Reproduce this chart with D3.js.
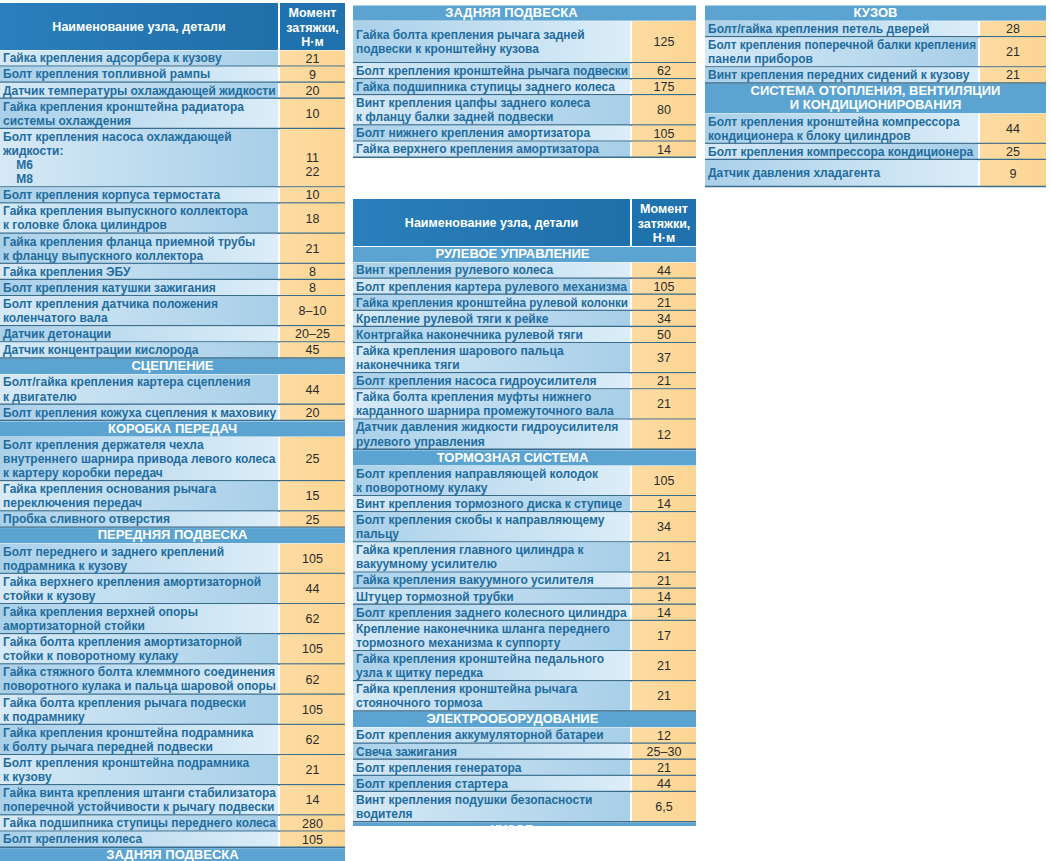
<!DOCTYPE html>
<html>
<head>
<meta charset="utf-8">
<script src="https://cdn.jsdelivr.net/npm/d3@7/dist/d3.min.js"></script>
<style>
body { margin: 0; background: #fff; }
svg { display: block; }
.name { font-family: "Liberation Sans", Arial, sans-serif; font-weight: bold; font-size: 12px; fill: #1f6c9e; }
.val { font-family: "Liberation Sans", Arial, sans-serif; font-size: 12.5px; fill: #2b2b2b; }
.sect { font-family: "Liberation Sans", Arial, sans-serif; font-weight: bold; font-size: 13px; fill: #fff; }
.head { font-family: "Liberation Sans", Arial, sans-serif; font-weight: bold; font-size: 12.5px; fill: #fff; }
</style>
</head>
<body>
<svg id="chart" width="1051" height="861"></svg>
<script>
// table contents: [name, value]; a row with no value is a section heading; "|" = line break
var engineRows = [
  ["Гайка крепления адсорбера к кузову", "21"],
  ["Болт крепления топливной рампы", "9"],
  ["Датчик температуры охлаждающей жидкости", "20"],
  ["Гайка крепления кронштейна радиатора|системы охлаждения", "10"],
  ["Болт крепления насоса охлаждающей|жидкости:|    М6|    М8", " |11|22"],
  ["Болт крепления корпуса термостата", "10"],
  ["Гайка крепления выпускного коллектора|к головке блока цилиндров", "18"],
  ["Гайка крепления фланца приемной трубы|к фланцу выпускного коллектора", "21"],
  ["Гайка крепления ЭБУ", "8"],
  ["Болт крепления катушки зажигания", "8"],
  ["Болт крепления датчика положения|коленчатого вала", "8–10"],
  ["Датчик детонации", "20–25"],
  ["Датчик концентрации кислорода", "45"],
  ["СЦЕПЛЕНИЕ"],
  ["Болт/гайка крепления картера сцепления|к двигателю", "44"],
  ["Болт крепления кожуха сцепления к маховику", "20"],
  ["КОРОБКА ПЕРЕДАЧ"],
  ["Болт крепления держателя чехла|внутреннего шарнира привода левого колеса|к картеру коробки передач", "25"],
  ["Гайка крепления основания рычага|переключения передач", "15"],
  ["Пробка сливного отверстия", "25"],
  ["ПЕРЕДНЯЯ ПОДВЕСКА"],
  ["Болт переднего и заднего креплений|подрамника к кузову", "105"],
  ["Гайка верхнего крепления амортизаторной|стойки к кузову", "44"],
  ["Гайка крепления верхней опоры|амортизаторной стойки", "62"],
  ["Гайка болта крепления амортизаторной|стойки к поворотному кулаку", "105"],
  ["Гайка стяжного болта клеммного соединения|поворотного кулака и пальца шаровой опоры", "62"],
  ["Гайка болта крепления рычага подвески|к подрамнику", "105"],
  ["Гайка крепления кронштейна подрамника|к болту рычага передней подвески", "62"],
  ["Болт крепления кронштейна подрамника|к кузову", "21"],
  ["Гайка винта крепления штанги стабилизатора|поперечной устойчивости к рычагу подвески", "14"],
  ["Гайка подшипника ступицы переднего колеса", "280"],
  ["Болт крепления колеса", "105"],
  ["ЗАДНЯЯ ПОДВЕСКА"]
];

var rearRows = [
  ["ЗАДНЯЯ ПОДВЕСКА"],
  ["Гайка болта крепления рычага задней|подвески к кронштейну кузова", "125"],
  ["Болт крепления кронштейна рычага подвески", "62"],
  ["Гайка подшипника ступицы заднего колеса", "175"],
  ["Винт крепления цапфы заднего колеса|к фланцу балки задней подвески", "80"],
  ["Болт нижнего крепления амортизатора", "105"],
  ["Гайка верхнего крепления амортизатора", "14"]
];

var steeringRows = [
  ["РУЛЕВОЕ УПРАВЛЕНИЕ"],
  ["Винт крепления рулевого колеса", "44"],
  ["Болт крепления картера рулевого механизма", "105"],
  ["Гайка крепления кронштейна рулевой колонки", "21"],
  ["Крепление рулевой тяги к рейке", "34"],
  ["Контргайка наконечника рулевой тяги", "50"],
  ["Гайка крепления шарового пальца|наконечника тяги", "37"],
  ["Болт крепления насоса гидроусилителя", "21"],
  ["Гайка болта крепления муфты нижнего|карданного шарнира промежуточного вала", "21"],
  ["Датчик давления жидкости гидроусилителя|рулевого управления", "12"],
  ["ТОРМОЗНАЯ СИСТЕМА"],
  ["Болт крепления направляющей колодок|к поворотному кулаку", "105"],
  ["Винт крепления тормозного диска к ступице", "14"],
  ["Болт крепления скобы к направляющему|пальцу", "34"],
  ["Гайка крепления главного цилиндра к|вакуумному усилителю", "21"],
  ["Гайка крепления вакуумного усилителя", "21"],
  ["Штуцер тормозной трубки", "14"],
  ["Болт крепления заднего колесного цилиндра", "14"],
  ["Крепление наконечника шланга переднего|тормозного механизма к суппорту", "17"],
  ["Гайка крепления кронштейна педального|узла к щитку передка", "21"],
  ["Гайка крепления кронштейна рычага|стояночного тормоза", "21"],
  ["ЭЛЕКТРООБОРУДОВАНИЕ"],
  ["Болт крепления аккумуляторной батареи", "12"],
  ["Свеча зажигания", "25–30"],
  ["Болт крепления генератора", "21"],
  ["Болт крепления стартера", "44"],
  ["Винт крепления подушки безопасности|водителя", "6,5"],
  ["КУЗОВ"]
];

var bodyRows = [
  ["КУЗОВ"],
  ["Болт/гайка крепления петель дверей", "28"],
  ["Болт крепления поперечной балки крепления|панели приборов", "21"],
  ["Винт крепления передних сидений к кузову", "21"],
  ["СИСТЕМА ОТОПЛЕНИЯ, ВЕНТИЛЯЦИИ|И КОНДИЦИОНИРОВАНИЯ"],
  ["Болт крепления кронштейна компрессора|кондиционера к блоку цилиндров", "44"],
  ["Болт крепления компрессора кондиционера", "25"],
  ["Датчик давления хладагента", "9"]
];

var headerName = "Наименование узла, детали";
var headerValue = ["Момент", "затяжки,", "Н·м"];

// layout of the four blocks
var blocks = [
  { rows: engineRows,   x: 0,   y: 3,   nameW: 278, valW: 65, header: true,  clipH: null, secShift: 0,   tall: {} },
  { rows: rearRows,     x: 353, y: 5,   nameW: 277, valW: 64, header: false, clipH: null, secShift: -13, tall: {1: 42} },
  { rows: steeringRows, x: 353, y: 199, nameW: 277, valW: 64, header: true,  clipH: 627, secShift: -12, tall: {} },
  { rows: bodyRows,     x: 705, y: 5,   nameW: 273, valW: 66, header: false, clipH: null, secShift: 0,   tall: {7: 27} }
];

var LINE = 14.1, PAD = 2, HEAD_H = 47, GAP = 2;

var svg = d3.select("#chart");
var defs = svg.append("defs");

function grad(id, c0, c1) {
  var lg = defs.append("linearGradient").attr("id", id).attr("x1", "0").attr("x2", "1").attr("y1", "0").attr("y2", "0");
  lg.append("stop").attr("offset", "0").attr("stop-color", c0);
  lg.append("stop").attr("offset", "1").attr("stop-color", c1);
}
grad("gA", "#d6e9f6", "#a7cfe8");
grad("gB", "#a9d0e9", "#dcedf8");
grad("gV", "#fddca4", "#fbd592");
grad("gH", "#2a7fbc", "#1f6fa8");

function drawBlock(b, bi) {
  var W = b.nameW + GAP + b.valW;
  var g = svg.append("g").attr("transform", "translate(" + b.x + "," + b.y + ")");
  if (b.clipH) {
    defs.append("clipPath").attr("id", "clip" + bi).append("rect").attr("width", W).attr("height", b.clipH);
    g.attr("clip-path", "url(#clip" + bi + ")");
  }
  var y0 = 0;
  if (b.header) {
    g.append("rect").attr("width", b.nameW).attr("height", HEAD_H).attr("fill", "url(#gH)");
    g.append("rect").attr("x", b.nameW + GAP).attr("width", b.valW).attr("height", HEAD_H).attr("fill", "#1f72ad");
    g.append("text").attr("class", "head").attr("x", b.nameW / 2).attr("y", HEAD_H / 2).attr("dy", "0.35em")
      .attr("text-anchor", "middle").text(headerName);
    g.append("g").selectAll("text").data(headerValue).join("text").attr("class", "head")
      .attr("x", b.nameW + GAP + b.valW / 2).attr("y", function (d, i) { return HEAD_H / 2 + 1 + (i - 1) * 14.5; })
      .attr("dy", "0.35em").attr("text-anchor", "middle").text(function (d) { return d; });
    y0 = HEAD_H + 0.5;
  }

  var rows = b.rows.map(function (r, i) {
    var lines = r[0].split("|");
    var h = b.tall[i] || (lines.length * LINE + PAD);
    var o = { lines: lines, vals: r[1] !== undefined ? r[1].split("|") : null, y: y0, h: h, i: i };
    y0 += h;
    return o;
  });

  var row = g.selectAll("g.row").data(rows).join("g").attr("class", "row")
    .attr("transform", function (d) { return "translate(0," + d.y + ")"; });

  // section headings
  var sec = row.filter(function (d) { return !d.vals; });
  sec.append("rect").attr("width", W).attr("height", function (d) { return d.h - 1; }).attr("y", 0.5).attr("fill", "#5ba3d0");
  sec.each(function (d) {
    d3.select(this).selectAll("text").data(d.lines).join("text").attr("class", "sect")
      .attr("x", W / 2 + b.secShift).attr("text-anchor", "middle")
      .attr("y", function (t, k) { return d.h / 2 - 1 + (k - (d.lines.length - 1) / 2) * LINE; })
      .attr("dy", "0.36em").text(function (t) { return t; });
  });

  // data rows
  var dat = row.filter(function (d) { return !!d.vals; });
  dat.append("rect").attr("width", b.nameW).attr("height", function (d) { return d.h; })
    .attr("fill", function (d) { return d.i % 2 ? "url(#gB)" : "url(#gA)"; });
  dat.append("rect").attr("x", b.nameW + GAP).attr("width", b.valW).attr("height", function (d) { return d.h; })
    .attr("fill", "url(#gV)");
  var maxW = b.nameW - 5;
  dat.each(function (d) {
    var sel = d3.select(this);
    sel.append("g").selectAll("text").data(d.lines).join("text").attr("class", "name")
      .attr("x", 3).attr("y", function (t, k) { return d.h / 2 - 0.5 + (k - (d.lines.length - 1) / 2) * LINE; })
      .attr("dy", "0.36em").attr("xml:space", "preserve").text(function (t) { return t; })
      .each(function () {
        // squeeze lines that would run into the value column
        if (this.getComputedTextLength() > maxW) {
          d3.select(this).attr("textLength", maxW).attr("lengthAdjust", "spacingAndGlyphs");
        }
      });
    sel.append("g").selectAll("text").data(d.vals).join("text").attr("class", "val")
      .attr("x", b.nameW + GAP + b.valW / 2).attr("text-anchor", "middle")
      .attr("y", function (t, k) { return d.h / 2 - 0.5 + (k - (d.vals.length - 1) / 2) * LINE; })
      .attr("dy", "0.36em").text(function (t) { return t; });
  });
  // separators under data rows
  dat.append("line").attr("x1", 0).attr("x2", W)
    .attr("y1", function (d) { return d.h - 0.5; }).attr("y2", function (d) { return d.h - 0.5; })
    .attr("stroke", "#3a6c8c").attr("stroke-width", 1.4);
}

blocks.forEach(drawBlock);
</script>
</body>
</html>
